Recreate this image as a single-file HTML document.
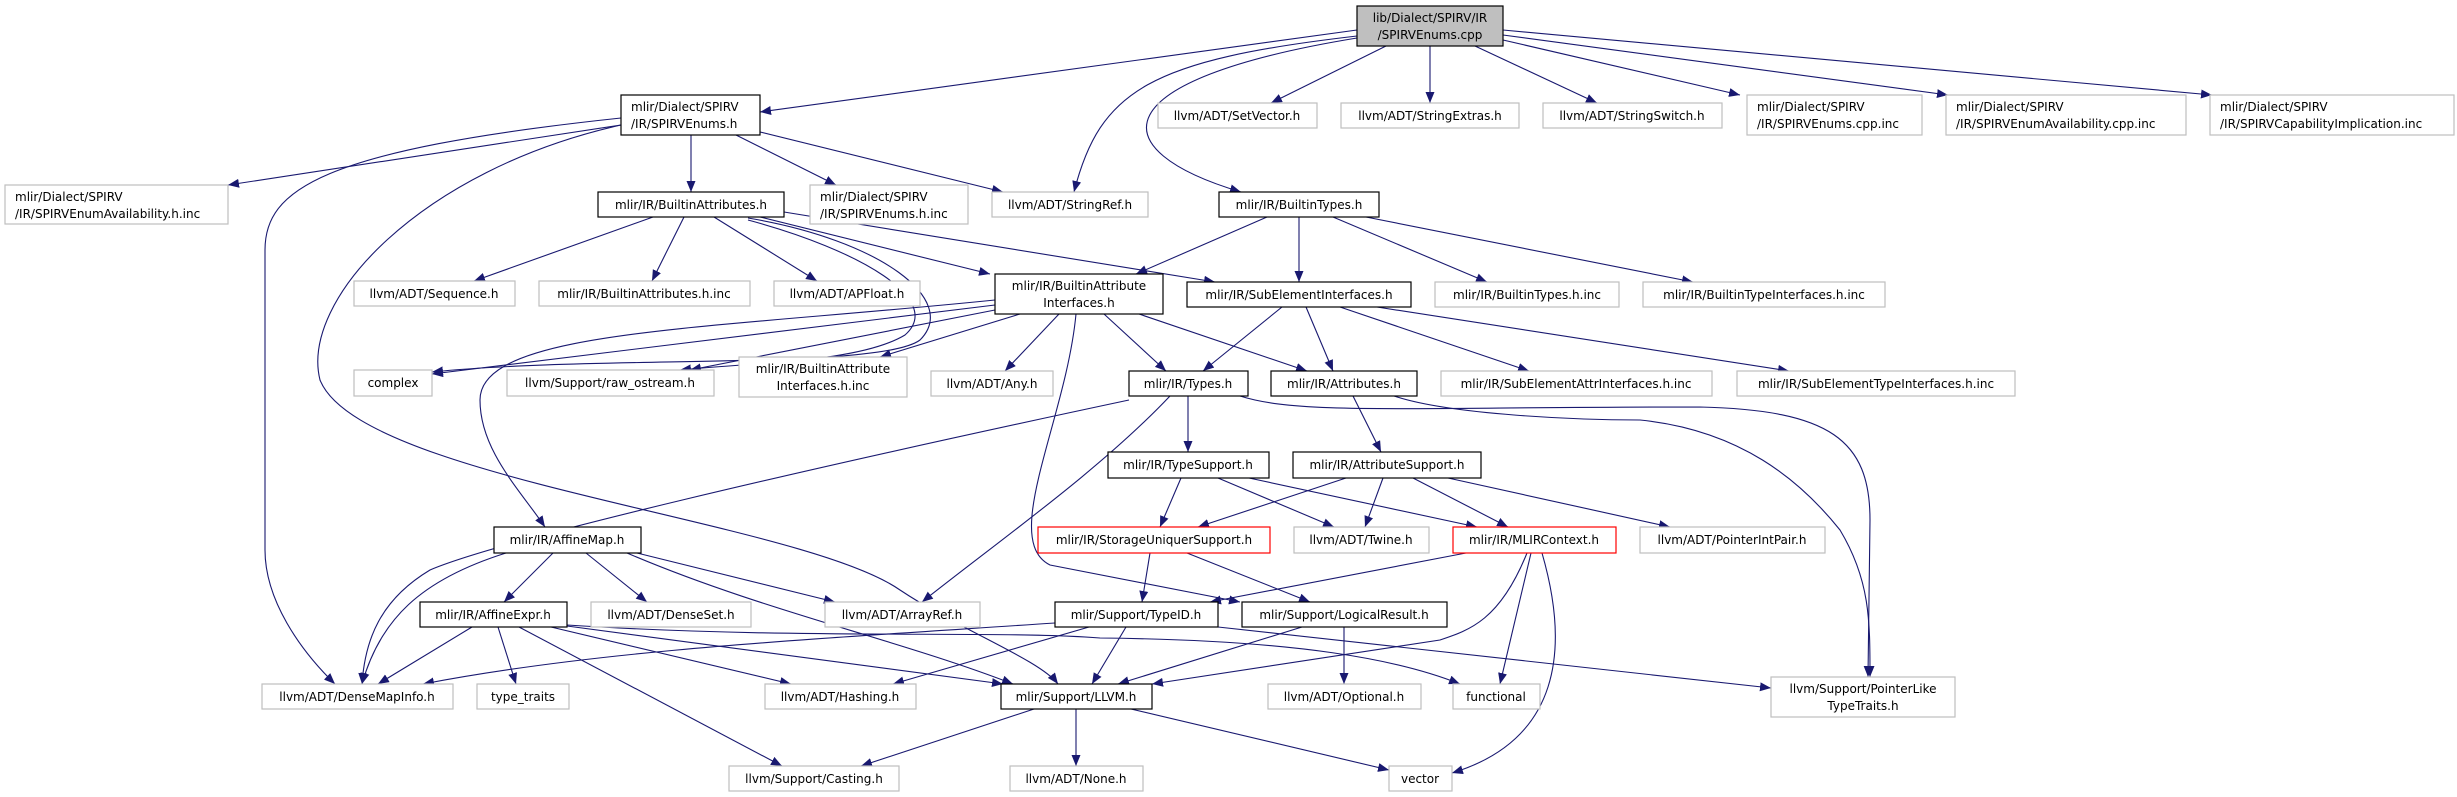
<!DOCTYPE html>
<html><head><meta charset="utf-8"><style>
html,body{margin:0;padding:0;background:#fff}
svg{display:block}
text{font-family:"DejaVu Sans","Liberation Sans",sans-serif;font-size:12px;fill:#000}
.e{fill:none;stroke:#191970;stroke-width:1.1}
.g{fill:#fff;stroke:#bfbfbf;stroke-width:1.2}
.b{fill:#fff;stroke:#000;stroke-width:1.2}
.r{fill:#fff;stroke:#ff0000;stroke-width:1.2}
.c{fill:#bfbfbf;stroke:#000;stroke-width:1.2}
</style></head><body>
<svg width="2457" height="797" viewBox="0 0 2457 797" xmlns="http://www.w3.org/2000/svg">
<defs><marker id="a" markerUnits="userSpaceOnUse" markerWidth="12" markerHeight="10" refX="11" refY="4.5" orient="auto"><path d="M0,0 L11,4.5 L0,9 z" fill="#191970"/></marker></defs>
<g class="e" marker-end="url(#a)">
<path d="M1357,30 L760,112"/>
<path d="M1357,36 C1150,60 1100,90 1074,192"/>
<path d="M1357,38 C1100,80 1100,150 1241,192"/>
<path d="M1386,46 L1271,103"/>
<path d="M1430,46 L1430,103"/>
<path d="M1475,46 L1597,103"/>
<path d="M1503,40 L1740,95"/>
<path d="M1503,35 L1948,95"/>
<path d="M1503,30 L2212,95"/>
<path d="M621,125 L228,185"/>
<path d="M691,135 L691,192"/>
<path d="M736,135 L836,185"/>
<path d="M760,132 L1003,192"/>
<path d="M621,118 C320,150 265,190 265,250 L265,550 C265,600 300,650 335,684"/>
<path d="M621,125 C420,170 300,300 320,380 C360,480 800,520 900,590 C960,630 1040,660 1058,684"/>
<path d="M653,217 L474,281"/>
<path d="M684,217 L652,281"/>
<path d="M714,217 L817,281"/>
<path d="M760,217 L990,274"/>
<path d="M784,212 L1215,282"/>
<path d="M748,218 C880,240 960,300 920,340 C880,370 600,355 432,372"/>
<path d="M748,220 C860,250 945,300 905,335 C860,362 760,362 680,370"/>
<path d="M1267,217 L1136,274"/>
<path d="M1299,217 L1299,282"/>
<path d="M1333,217 L1487,282"/>
<path d="M1366,217 L1693,282"/>
<path d="M995,305 L432,374"/>
<path d="M995,310 L690,370"/>
<path d="M1020,314 L880,357"/>
<path d="M1059,314 L1005,371"/>
<path d="M1104,314 L1166,371"/>
<path d="M1139,314 L1307,371"/>
<path d="M995,300 C700,330 480,330 480,400 C480,450 520,490 545,527"/>
<path d="M1076,314 C1066,420 1000,540 1050,565 L1240,602"/>
<path d="M1282,307 L1203,371"/>
<path d="M1306,307 L1333,371"/>
<path d="M1340,307 L1529,371"/>
<path d="M1377,307 L1789,371"/>
<path d="M1188,396 L1188,452"/>
<path d="M1129,400 C800,470 500,540 430,570 C380,600 365,640 362,684"/>
<path d="M1170,396 C1100,470 1000,540 922,602"/>
<path d="M1240,396 C1300,415 1400,407 1700,407 C1830,410 1870,440 1870,520 L1868,677"/>
<path d="M1353,396 L1381,452"/>
<path d="M1394,396 C1450,415 1580,420 1640,420 C1740,430 1800,480 1840,530 C1870,580 1870,620 1870,677"/>
<path d="M1181,478 L1160,527"/>
<path d="M1218,478 L1334,527"/>
<path d="M1249,478 L1477,527"/>
<path d="M1346,478 L1198,527"/>
<path d="M1383,478 L1365,527"/>
<path d="M1413,478 L1508,527"/>
<path d="M1448,478 L1670,527"/>
<path d="M1150,553 L1142,602"/>
<path d="M1187,553 L1310,602"/>
<path d="M1466,553 L1210,602"/>
<path d="M1527,553 C1500,620 1470,630 1440,640 L1152,684"/>
<path d="M1531,553 L1500,684"/>
<path d="M1542,553 C1570,650 1560,740 1452,773"/>
<path d="M1055,623 C800,640 600,650 423,684"/>
<path d="M1089,627 L893,684"/>
<path d="M1126,627 L1092,684"/>
<path d="M1218,627 L1771,688"/>
<path d="M1302,627 L1118,684"/>
<path d="M1344,627 L1344,684"/>
<path d="M506,553 C420,580 380,620 362,684"/>
<path d="M553,553 L504,602"/>
<path d="M586,553 L647,602"/>
<path d="M637,553 L835,602"/>
<path d="M627,553 C760,610 900,640 1013,684"/>
<path d="M472,627 L378,684"/>
<path d="M498,627 L516,684"/>
<path d="M519,627 L782,766"/>
<path d="M551,627 L791,684"/>
<path d="M567,626 L1003,684"/>
<path d="M567,625 C800,640 1000,630 1100,638 C1300,640 1400,660 1460,684"/>
<path d="M1034,709 L861,766"/>
<path d="M1076,709 L1076,766"/>
<path d="M1131,709 L1389,770"/>
</g>
<g>
<rect class="c" x="1357" y="6" width="146" height="40"/><text x="1430" y="22" text-anchor="middle">lib/Dialect/SPIRV/IR</text><text x="1430" y="39" text-anchor="middle">/SPIRVEnums.cpp</text>
<rect class="b" x="621" y="95" width="139" height="40"/><text x="631" y="111">mlir/Dialect/SPIRV</text><text x="631" y="128">/IR/SPIRVEnums.h</text>
<rect class="g" x="5" y="185" width="223" height="39"/><text x="15" y="201">mlir/Dialect/SPIRV</text><text x="15" y="218">/IR/SPIRVEnumAvailability.h.inc</text>
<rect class="g" x="1158" y="103" width="159" height="25"/><text x="1237" y="120" text-anchor="middle">llvm/ADT/SetVector.h</text>
<rect class="g" x="1341" y="103" width="178" height="25"/><text x="1430" y="120" text-anchor="middle">llvm/ADT/StringExtras.h</text>
<rect class="g" x="1543" y="103" width="179" height="25"/><text x="1632" y="120" text-anchor="middle">llvm/ADT/StringSwitch.h</text>
<rect class="g" x="1747" y="95" width="175" height="40"/><text x="1757" y="111">mlir/Dialect/SPIRV</text><text x="1757" y="128">/IR/SPIRVEnums.cpp.inc</text>
<rect class="g" x="1946" y="95" width="240" height="40"/><text x="1956" y="111">mlir/Dialect/SPIRV</text><text x="1956" y="128">/IR/SPIRVEnumAvailability.cpp.inc</text>
<rect class="g" x="2210" y="95" width="244" height="40"/><text x="2220" y="111">mlir/Dialect/SPIRV</text><text x="2220" y="128">/IR/SPIRVCapabilityImplication.inc</text>
<rect class="b" x="598" y="192" width="186" height="25"/><text x="691" y="209" text-anchor="middle">mlir/IR/BuiltinAttributes.h</text>
<rect class="g" x="810" y="185" width="158" height="39"/><text x="820" y="201">mlir/Dialect/SPIRV</text><text x="820" y="218">/IR/SPIRVEnums.h.inc</text>
<rect class="g" x="992" y="192" width="156" height="25"/><text x="1070" y="209" text-anchor="middle">llvm/ADT/StringRef.h</text>
<rect class="b" x="1219" y="192" width="160" height="25"/><text x="1299" y="209" text-anchor="middle">mlir/IR/BuiltinTypes.h</text>
<rect class="g" x="354" y="281" width="161" height="25"/><text x="434" y="298" text-anchor="middle">llvm/ADT/Sequence.h</text>
<rect class="g" x="539" y="281" width="211" height="25"/><text x="644" y="298" text-anchor="middle">mlir/IR/BuiltinAttributes.h.inc</text>
<rect class="g" x="774" y="281" width="146" height="25"/><text x="847" y="298" text-anchor="middle">llvm/ADT/APFloat.h</text>
<rect class="b" x="995" y="274" width="168" height="40"/><text x="1079" y="290" text-anchor="middle">mlir/IR/BuiltinAttribute</text><text x="1079" y="307" text-anchor="middle">Interfaces.h</text>
<rect class="b" x="1187" y="282" width="224" height="25"/><text x="1299" y="299" text-anchor="middle">mlir/IR/SubElementInterfaces.h</text>
<rect class="g" x="1435" y="282" width="184" height="25"/><text x="1527" y="299" text-anchor="middle">mlir/IR/BuiltinTypes.h.inc</text>
<rect class="g" x="1643" y="282" width="242" height="25"/><text x="1764" y="299" text-anchor="middle">mlir/IR/BuiltinTypeInterfaces.h.inc</text>
<rect class="g" x="354" y="370" width="78" height="26"/><text x="393" y="387" text-anchor="middle">complex</text>
<rect class="g" x="507" y="370" width="207" height="26"/><text x="610" y="387" text-anchor="middle">llvm/Support/raw_ostream.h</text>
<rect class="g" x="739" y="357" width="168" height="40"/><text x="823" y="373" text-anchor="middle">mlir/IR/BuiltinAttribute</text><text x="823" y="390" text-anchor="middle">Interfaces.h.inc</text>
<rect class="g" x="931" y="371" width="122" height="25"/><text x="992" y="388" text-anchor="middle">llvm/ADT/Any.h</text>
<rect class="b" x="1129" y="371" width="119" height="25"/><text x="1188" y="388" text-anchor="middle">mlir/IR/Types.h</text>
<rect class="b" x="1271" y="371" width="146" height="25"/><text x="1344" y="388" text-anchor="middle">mlir/IR/Attributes.h</text>
<rect class="g" x="1441" y="371" width="271" height="25"/><text x="1576" y="388" text-anchor="middle">mlir/IR/SubElementAttrInterfaces.h.inc</text>
<rect class="g" x="1737" y="371" width="278" height="25"/><text x="1876" y="388" text-anchor="middle">mlir/IR/SubElementTypeInterfaces.h.inc</text>
<rect class="b" x="1108" y="452" width="161" height="26"/><text x="1188" y="469" text-anchor="middle">mlir/IR/TypeSupport.h</text>
<rect class="b" x="1293" y="452" width="188" height="26"/><text x="1387" y="469" text-anchor="middle">mlir/IR/AttributeSupport.h</text>
<rect class="b" x="494" y="527" width="147" height="26"/><text x="567" y="544" text-anchor="middle">mlir/IR/AffineMap.h</text>
<rect class="r" x="1038" y="527" width="232" height="26"/><text x="1154" y="544" text-anchor="middle">mlir/IR/StorageUniquerSupport.h</text>
<rect class="g" x="1294" y="527" width="135" height="26"/><text x="1361" y="544" text-anchor="middle">llvm/ADT/Twine.h</text>
<rect class="r" x="1453" y="527" width="163" height="26"/><text x="1534" y="544" text-anchor="middle">mlir/IR/MLIRContext.h</text>
<rect class="g" x="1640" y="527" width="185" height="26"/><text x="1732" y="544" text-anchor="middle">llvm/ADT/PointerIntPair.h</text>
<rect class="b" x="420" y="602" width="147" height="25"/><text x="493" y="619" text-anchor="middle">mlir/IR/AffineExpr.h</text>
<rect class="g" x="591" y="602" width="160" height="25"/><text x="671" y="619" text-anchor="middle">llvm/ADT/DenseSet.h</text>
<rect class="g" x="825" y="602" width="155" height="25"/><text x="902" y="619" text-anchor="middle">llvm/ADT/ArrayRef.h</text>
<rect class="b" x="1055" y="602" width="163" height="25"/><text x="1136" y="619" text-anchor="middle">mlir/Support/TypeID.h</text>
<rect class="b" x="1242" y="602" width="205" height="25"/><text x="1344" y="619" text-anchor="middle">mlir/Support/LogicalResult.h</text>
<rect class="g" x="262" y="684" width="191" height="25"/><text x="357" y="701" text-anchor="middle">llvm/ADT/DenseMapInfo.h</text>
<rect class="g" x="477" y="684" width="92" height="25"/><text x="523" y="701" text-anchor="middle">type_traits</text>
<rect class="g" x="765" y="684" width="151" height="25"/><text x="840" y="701" text-anchor="middle">llvm/ADT/Hashing.h</text>
<rect class="b" x="1001" y="684" width="151" height="25"/><text x="1076" y="701" text-anchor="middle">mlir/Support/LLVM.h</text>
<rect class="g" x="1268" y="684" width="153" height="25"/><text x="1344" y="701" text-anchor="middle">llvm/ADT/Optional.h</text>
<rect class="g" x="1453" y="684" width="87" height="25"/><text x="1496" y="701" text-anchor="middle">functional</text>
<rect class="g" x="1771" y="677" width="184" height="40"/><text x="1863" y="693" text-anchor="middle">llvm/Support/PointerLike</text><text x="1863" y="710" text-anchor="middle">TypeTraits.h</text>
<rect class="g" x="729" y="766" width="170" height="25"/><text x="814" y="783" text-anchor="middle">llvm/Support/Casting.h</text>
<rect class="g" x="1010" y="766" width="133" height="25"/><text x="1076" y="783" text-anchor="middle">llvm/ADT/None.h</text>
<rect class="g" x="1389" y="766" width="63" height="25"/><text x="1420" y="783" text-anchor="middle">vector</text>
</g>
</svg>
</body></html>
